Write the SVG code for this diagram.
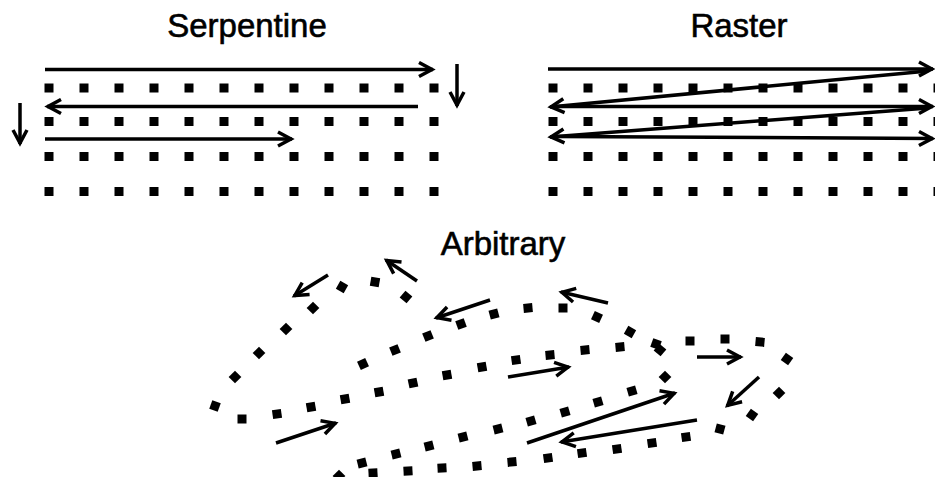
<svg xmlns="http://www.w3.org/2000/svg" xmlns:xlink="http://www.w3.org/1999/xlink" width="935" height="477" viewBox="0 0 935 477">
  <style>
    .title { font-family: "Liberation Sans", Arial, sans-serif; font-size: 33px; fill: #000; stroke: #000; stroke-width: 0.6; text-anchor: middle; }
    .arrow { stroke: #000; stroke-width: 3.5; fill: none; marker-end: url(#head); }
    .dot { fill: #000; }
  </style>
  <defs>
    <marker id="head" markerUnits="userSpaceOnUse" viewBox="-15 -9 19 18" markerWidth="19" markerHeight="18" refX="1" refY="0" orient="auto">
      <path d="M-13,-7 L0,0 L-13,7" fill="none" stroke="#000" stroke-width="3.5" stroke-linejoin="miter"/>
    </marker>
    <rect id="sq" class="dot" x="-4.5" y="-4.5" width="9" height="9"/>
    <!-- one row of twelve sample points, 35 px pitch -->
    <g id="row">
      <rect class="dot" x="44.5" y="-4.5" width="9" height="9"/>
      <rect class="dot" x="79.5" y="-4.5" width="9" height="9"/>
      <rect class="dot" x="114.5" y="-4.5" width="9" height="9"/>
      <rect class="dot" x="149.5" y="-4.5" width="9" height="9"/>
      <rect class="dot" x="184.5" y="-4.5" width="9" height="9"/>
      <rect class="dot" x="219.5" y="-4.5" width="9" height="9"/>
      <rect class="dot" x="254.5" y="-4.5" width="9" height="9"/>
      <rect class="dot" x="289.5" y="-4.5" width="9" height="9"/>
      <rect class="dot" x="324.5" y="-4.5" width="9" height="9"/>
      <rect class="dot" x="359.5" y="-4.5" width="9" height="9"/>
      <rect class="dot" x="394.5" y="-4.5" width="9" height="9"/>
      <rect class="dot" x="429.5" y="-4.5" width="9" height="9"/>
    </g>
  </defs>

  <rect width="935" height="477" fill="#fff"/>

  <!-- Serpentine scan -->
  <g id="serpentine">
    <text class="title" x="247" y="37">Serpentine</text>
    <use xlink:href="#row" y="88"/>
    <use xlink:href="#row" y="121.5"/>
    <use xlink:href="#row" y="156.5"/>
    <use xlink:href="#row" y="191.5"/>
  </g>

  <!-- Raster scan -->
  <g id="raster">
    <text class="title" x="739" y="37">Raster</text>
    <use xlink:href="#row" x="504" y="88"/>
    <use xlink:href="#row" x="504" y="121.5"/>
    <use xlink:href="#row" x="504" y="156.5"/>
    <use xlink:href="#row" x="504" y="191.5"/>
  </g>

  <!-- Arbitrary path -->
  <g id="arbitrary">
    <text class="title" x="503" y="255">Arbitrary</text>
    <!-- upper-left loop -->
    <use xlink:href="#sq" transform="translate(215,406) rotate(20)"/>
    <use xlink:href="#sq" transform="translate(235,377) rotate(45)"/>
    <use xlink:href="#sq" transform="translate(259,353) rotate(45)"/>
    <use xlink:href="#sq" transform="translate(286,329) rotate(45)"/>
    <use xlink:href="#sq" transform="translate(313,308) rotate(45)"/>
    <use xlink:href="#sq" transform="translate(342,287) rotate(30)"/>
    <use xlink:href="#sq" transform="translate(375,282) rotate(10)"/>
    <use xlink:href="#sq" transform="translate(406,297) rotate(40)"/>
    <!-- upper diagonal -->
    <use xlink:href="#sq" transform="translate(363,364) rotate(-25)"/>
    <use xlink:href="#sq" transform="translate(395,350) rotate(-22)"/>
    <use xlink:href="#sq" transform="translate(428,336) rotate(-22)"/>
    <use xlink:href="#sq" transform="translate(461,324) rotate(-20)"/>
    <use xlink:href="#sq" transform="translate(494,314) rotate(-15)"/>
    <use xlink:href="#sq" transform="translate(528,308) rotate(-5)"/>
    <use xlink:href="#sq" transform="translate(563,308) rotate(0)"/>
    <use xlink:href="#sq" transform="translate(597,317) rotate(25)"/>
    <use xlink:href="#sq" transform="translate(630,332) rotate(30)"/>
    <use xlink:href="#sq" transform="translate(656,344) rotate(20)"/>
    <use xlink:href="#sq" transform="translate(660,350) rotate(40)"/>
    <use xlink:href="#sq" transform="translate(665,377) rotate(45)"/>
    <!-- middle row -->
    <use xlink:href="#sq" transform="translate(242,419) rotate(0)"/>
    <use xlink:href="#sq" transform="translate(277,414) rotate(-8)"/>
    <use xlink:href="#sq" transform="translate(311,407) rotate(-10)"/>
    <use xlink:href="#sq" transform="translate(345,399) rotate(-10)"/>
    <use xlink:href="#sq" transform="translate(379,392) rotate(-10)"/>
    <use xlink:href="#sq" transform="translate(413,383) rotate(-12)"/>
    <use xlink:href="#sq" transform="translate(447,375) rotate(-10)"/>
    <use xlink:href="#sq" transform="translate(482,367) rotate(-10)"/>
    <use xlink:href="#sq" transform="translate(516,360) rotate(-8)"/>
    <use xlink:href="#sq" transform="translate(550,355) rotate(-5)"/>
    <use xlink:href="#sq" transform="translate(585,350) rotate(-5)"/>
    <use xlink:href="#sq" transform="translate(620,347) rotate(-5)"/>
    <use xlink:href="#sq" transform="translate(690,341) rotate(0)"/>
    <use xlink:href="#sq" transform="translate(725,339) rotate(0)"/>
    <use xlink:href="#sq" transform="translate(760,342) rotate(5)"/>
    <use xlink:href="#sq" transform="translate(787,359) rotate(35)"/>
    <use xlink:href="#sq" transform="translate(779,393) rotate(45)"/>
    <use xlink:href="#sq" transform="translate(752,415) rotate(35)"/>
    <use xlink:href="#sq" transform="translate(720,429) rotate(15)"/>
    <!-- lower diagonal -->
    <use xlink:href="#sq" transform="translate(362,463) rotate(-14)"/>
    <use xlink:href="#sq" transform="translate(396,454) rotate(-14)"/>
    <use xlink:href="#sq" transform="translate(429,446) rotate(-14)"/>
    <use xlink:href="#sq" transform="translate(463,437) rotate(-14)"/>
    <use xlink:href="#sq" transform="translate(498,429) rotate(-14)"/>
    <use xlink:href="#sq" transform="translate(531,421) rotate(-16)"/>
    <use xlink:href="#sq" transform="translate(565,412) rotate(-16)"/>
    <use xlink:href="#sq" transform="translate(598,402) rotate(-16)"/>
    <use xlink:href="#sq" transform="translate(632,391) rotate(-16)"/>
    <!-- bottom row -->
    <use xlink:href="#sq" transform="translate(339,476) rotate(45)"/>
    <use xlink:href="#sq" transform="translate(373,473) rotate(-3)"/>
    <use xlink:href="#sq" transform="translate(408,471) rotate(-3)"/>
    <use xlink:href="#sq" transform="translate(442,468) rotate(-3)"/>
    <use xlink:href="#sq" transform="translate(477,466) rotate(-5)"/>
    <use xlink:href="#sq" transform="translate(512,462) rotate(-5)"/>
    <use xlink:href="#sq" transform="translate(548,458) rotate(-8)"/>
    <use xlink:href="#sq" transform="translate(582,453) rotate(-8)"/>
    <use xlink:href="#sq" transform="translate(617,449) rotate(-8)"/>
    <use xlink:href="#sq" transform="translate(652,443) rotate(-8)"/>
    <use xlink:href="#sq" transform="translate(686,437) rotate(-8)"/>
  </g>

  <g id="connectors">
    <!-- serpentine -->
    <path class="arrow" d="M45,69.5 H433"/>
    <path class="arrow" d="M457,64 V106"/>
    <path class="arrow" d="M418,106.5 H47"/>
    <path class="arrow" d="M20,103 V144"/>
    <path class="arrow" d="M45,139 H292"/>
    <!-- raster -->
    <path class="arrow" d="M548,69 H933"/>
    <path class="arrow" d="M928,71 L550,107"/>
    <path class="arrow" d="M552,106.5 H933"/>
    <path class="arrow" d="M928,108 L550,137"/>
    <path class="arrow" d="M556,136.5 L933,138.5"/>
    <!-- arbitrary -->
    <path class="arrow" d="M328,275 L294,296"/>
    <path class="arrow" d="M417,281 L386,260"/>
    <path class="arrow" d="M490,300 L436,318"/>
    <path class="arrow" d="M608,303 L561,292"/>
    <path class="arrow" d="M276,443 L336,423"/>
    <path class="arrow" d="M508,377 L569,367"/>
    <path class="arrow" d="M697,357 H741"/>
    <path class="arrow" d="M759,377 L727,406"/>
    <path class="arrow" d="M527,443 L675,393"/>
    <path class="arrow" d="M697,420 L561,442"/>
  </g>
</svg>
